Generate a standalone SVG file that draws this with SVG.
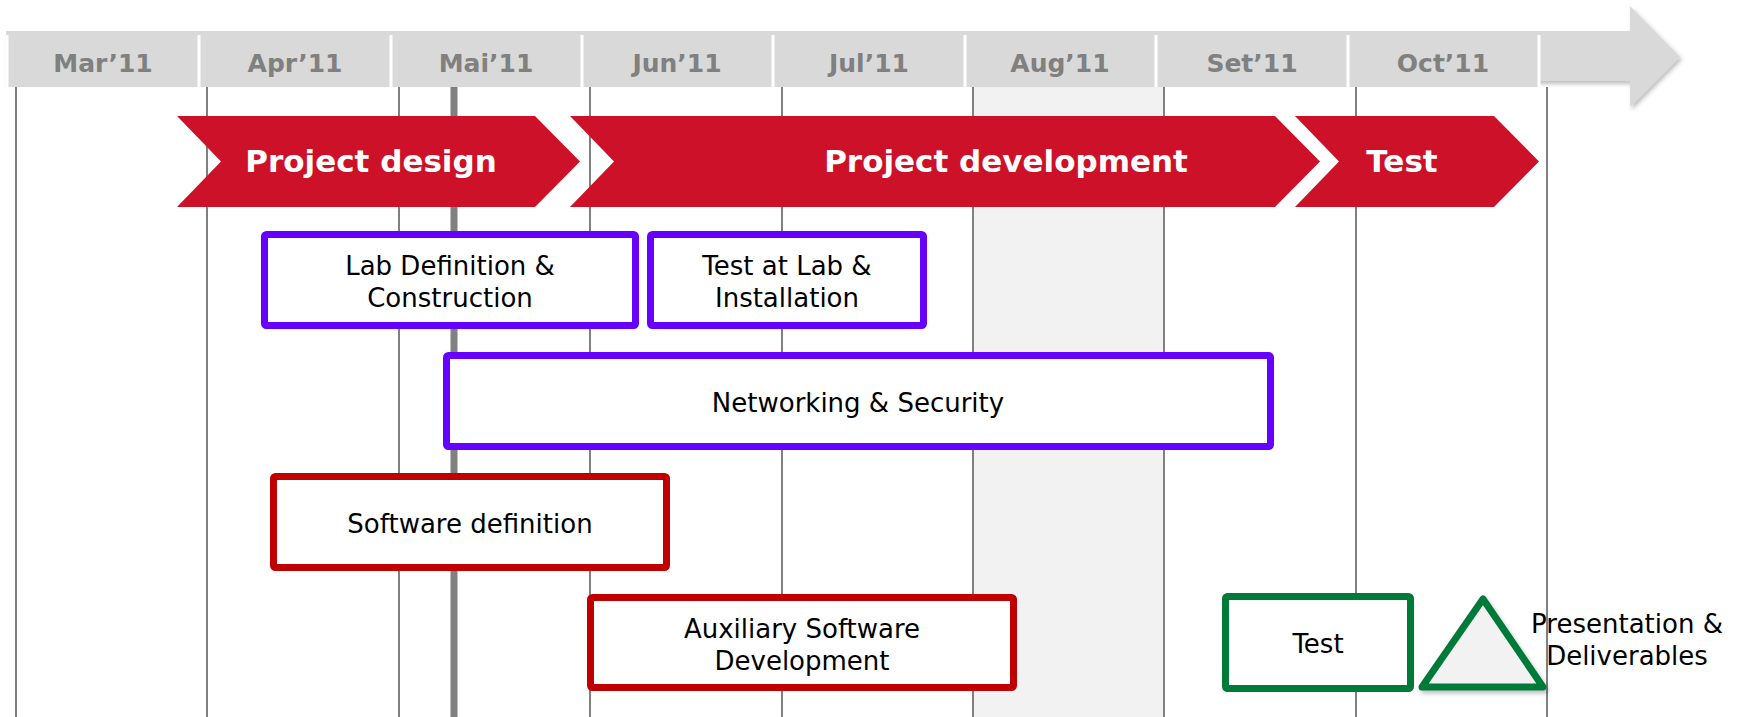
<svg xmlns="http://www.w3.org/2000/svg" width="1740" height="717" viewBox="0 0 1740 717">
<defs>
<filter id="sh" x="-20%" y="-20%" width="150%" height="150%"><feDropShadow dx="2" dy="3" stdDeviation="2" flood-color="#000" flood-opacity="0.25"/></filter>
<style>
.grid{stroke:#808080;stroke-width:2;fill:none}
.sep{stroke:#ffffff;stroke-width:3}
.mon{font-family:"DejaVu Sans",Verdana,sans-serif;font-weight:bold;font-size:25px;fill:#808080;text-anchor:middle}
.chev{fill:#cd1128}
.ct{font-family:"DejaVu Sans",Verdana,sans-serif;font-weight:bold;font-size:31px;fill:#ffffff;text-anchor:middle}
.box{fill:#ffffff;stroke-width:7;stroke-linejoin:round}
.pu{stroke:#6600ff}
.rd{stroke:#c00000}
.gr{stroke:#007a37}
.bt{font-family:"DejaVu Sans",Verdana,sans-serif;font-size:26px;fill:#000000;text-anchor:middle}
</style>
</defs>
<rect x="0" y="0" width="1740" height="717" fill="#ffffff"/>
<g id="background">
<rect x="974" y="87" width="190" height="630" fill="#f2f2f2"/>
<line class="grid" x1="16" y1="87" x2="16" y2="717"/>
<line class="grid" x1="207" y1="87" x2="207" y2="717"/>
<line class="grid" x1="399" y1="87" x2="399" y2="717"/>
<line class="grid" x1="590" y1="87" x2="590" y2="717"/>
<line class="grid" x1="782" y1="87" x2="782" y2="717"/>
<line class="grid" x1="973" y1="87" x2="973" y2="717"/>
<line class="grid" x1="1164" y1="87" x2="1164" y2="717"/>
<line class="grid" x1="1356" y1="87" x2="1356" y2="717"/>
<line class="grid" x1="1547" y1="87" x2="1547" y2="717"/>
<line x1="454" y1="83" x2="454" y2="717" stroke="#808080" stroke-width="7"/>
</g>
<g id="timeline">
<polygon points="6,31 1630,31 1630,6 1680,56.5 1630,107 1630,81 6,81" fill="#d9d9d9" filter="url(#sh)"/>
<rect x="6" y="31" width="1533" height="56" fill="#d9d9d9"/>
<line class="sep" x1="7" y1="35" x2="7" y2="87"/>
<line class="sep" x1="199" y1="35" x2="199" y2="87"/>
<line class="sep" x1="391" y1="35" x2="391" y2="87"/>
<line class="sep" x1="582" y1="35" x2="582" y2="87"/>
<line class="sep" x1="773" y1="35" x2="773" y2="87"/>
<line class="sep" x1="965" y1="35" x2="965" y2="87"/>
<line class="sep" x1="1156" y1="35" x2="1156" y2="87"/>
<line class="sep" x1="1348" y1="35" x2="1348" y2="87"/>
<line class="sep" x1="1539" y1="35" x2="1539" y2="87"/>
<text class="mon" x="103" y="72">Mar’11</text>
<text class="mon" x="295" y="72">Apr’11</text>
<text class="mon" x="486" y="72">Mai’11</text>
<text class="mon" x="677" y="72">Jun’11</text>
<text class="mon" x="869" y="72">Jul’11</text>
<text class="mon" x="1060" y="72">Aug’11</text>
<text class="mon" x="1252" y="72">Set’11</text>
<text class="mon" x="1443" y="72">Oct’11</text>
</g>
<g id="phase-design">
<polygon class="chev" points="177,116 535,116 580,161.5 535,207 177,207 221,161.5"/>
<text class="ct" x="371" y="172">Project design</text>
</g>
<g id="phase-development">
<polygon class="chev" points="570,116 1275,116 1320,161.5 1275,207 570,207 614,161.5"/>
<text class="ct" x="1006" y="172">Project development</text>
</g>
<g id="phase-test">
<polygon class="chev" points="1295,116 1494,116 1539,161.5 1494,207 1295,207 1339,161.5"/>
<text class="ct" x="1402" y="172">Test</text>
</g>
<g id="lab-definition">
<rect class="box pu" x="264.5" y="234.5" width="371" height="91" rx="2"/>
<text class="bt" x="450" y="275">Lab Definition &amp;</text>
<text class="bt" x="450" y="307">Construction</text>
</g>
<g id="test-at-lab">
<rect class="box pu" x="650.5" y="234.5" width="273" height="91" rx="2"/>
<text class="bt" x="787" y="275">Test at Lab &amp;</text>
<text class="bt" x="787" y="307">Installation</text>
</g>
<g id="networking">
<rect class="box pu" x="446.5" y="355.5" width="824" height="91" rx="2"/>
<text class="bt" x="858" y="412">Networking &amp; Security</text>
</g>
<g id="software-definition">
<rect class="box rd" x="273.5" y="476.5" width="393" height="91" rx="2"/>
<text class="bt" x="470" y="533">Software definition</text>
</g>
<g id="auxiliary-software">
<rect class="box rd" x="590.5" y="597.5" width="423" height="90" rx="2"/>
<text class="bt" x="802" y="638">Auxiliary Software</text>
<text class="bt" x="802" y="670">Development</text>
</g>
<g id="test-box">
<rect class="box gr" x="1225.5" y="596.5" width="185" height="92" rx="2"/>
<text class="bt" x="1318" y="653">Test</text>
</g>
<g id="presentation">
<polygon points="1483,599 1543,687 1422,687" fill="#f2f2f2" stroke="#007a37" stroke-width="7" stroke-linejoin="round" filter="url(#sh)"/>
<text class="bt" x="1627" y="633">Presentation &amp;</text>
<text class="bt" x="1627" y="665">Deliverables</text>
</g>
<g id="connectors"></g>
</svg>
